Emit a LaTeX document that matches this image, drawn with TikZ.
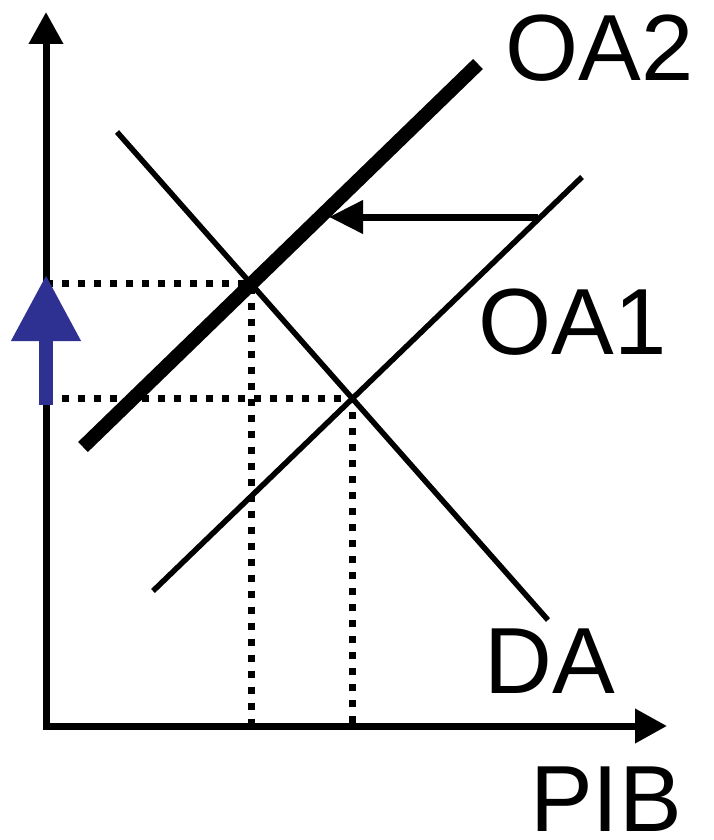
\documentclass[tikz,border=0pt]{standalone}
\usepackage{fontspec}
\setmainfont{Liberation Sans}
\usetikzlibrary{arrows.meta}
\definecolor{shiftblue}{RGB}{46,49,146}
\tikzset{
  axis/.style={line width=7pt, line join=miter, {Triangle[length=32pt,width=33pt]}-{Triangle[length=32pt,width=33pt]}},
  curvethin/.style={line width=5.5pt},
  curvethick/.style={line width=14pt},
  guide/.style={line width=7pt, dash pattern=on 7pt off 9pt},
  shiftarrow/.style={line width=7pt, -{Triangle[length=34pt,width=32pt]}},
  risearrow/.style={line width=14pt, shiftblue, -{Triangle[length=66pt,width=66pt]}},
  lbl/.style={inner sep=0pt, anchor=base west, font=\fontsize{94}{94}\selectfont}
}
\begin{document}
\begin{tikzpicture}[x=1pt,y=-1pt]
\useasboundingbox (0,0) rectangle (713,840);
% axes
\coordinate (O) at (46,726);
\coordinate (ytip) at (46,12);
\coordinate (xtip) at (667,726);
% curves end points
\coordinate (da1) at (117,132);
\coordinate (da2) at (548,620);
\coordinate (oa11) at (153,591);
\coordinate (oa12) at (582,177);
\coordinate (oa21) at (83,447);
\coordinate (oa22) at (478,64);
\coordinate (E2) at (intersection of da1--da2 and oa21--oa22);
\coordinate (E1) at (intersection of da1--da2 and oa11--oa12);
% guides
\draw[guide] (O |- E2) -- (E2) -- (E2 |- O);
\draw[guide] (O |- E1) -- (E1) -- (E1 |- O);
% axes
\draw[axis] (ytip) |- (xtip);
% curves
\draw[curvethin] (da1) -- (da2);
\draw[curvethin] (oa11) -- (oa12);
\draw[curvethick] (oa21) -- (oa22);
% shift arrow
\coordinate (sa1) at (538,217);
\coordinate (sa2) at (329,217);
\draw[shiftarrow] (sa1) -- (sa2);
% rise arrow
\coordinate (ra1) at (46,405);
\coordinate (ra2) at (46,275);
\draw[risearrow] (ra1) -- (ra2);
% labels
\node[lbl] (loa2) at (505.5,81) {OA2};
\node[lbl] (loa1) at (478.5,354) {OA1};
\node[lbl] (lda) at (484.6,693) {DA};
\node[lbl] (lpib) at (530,831) {PIB};
\end{tikzpicture}
\end{document}
